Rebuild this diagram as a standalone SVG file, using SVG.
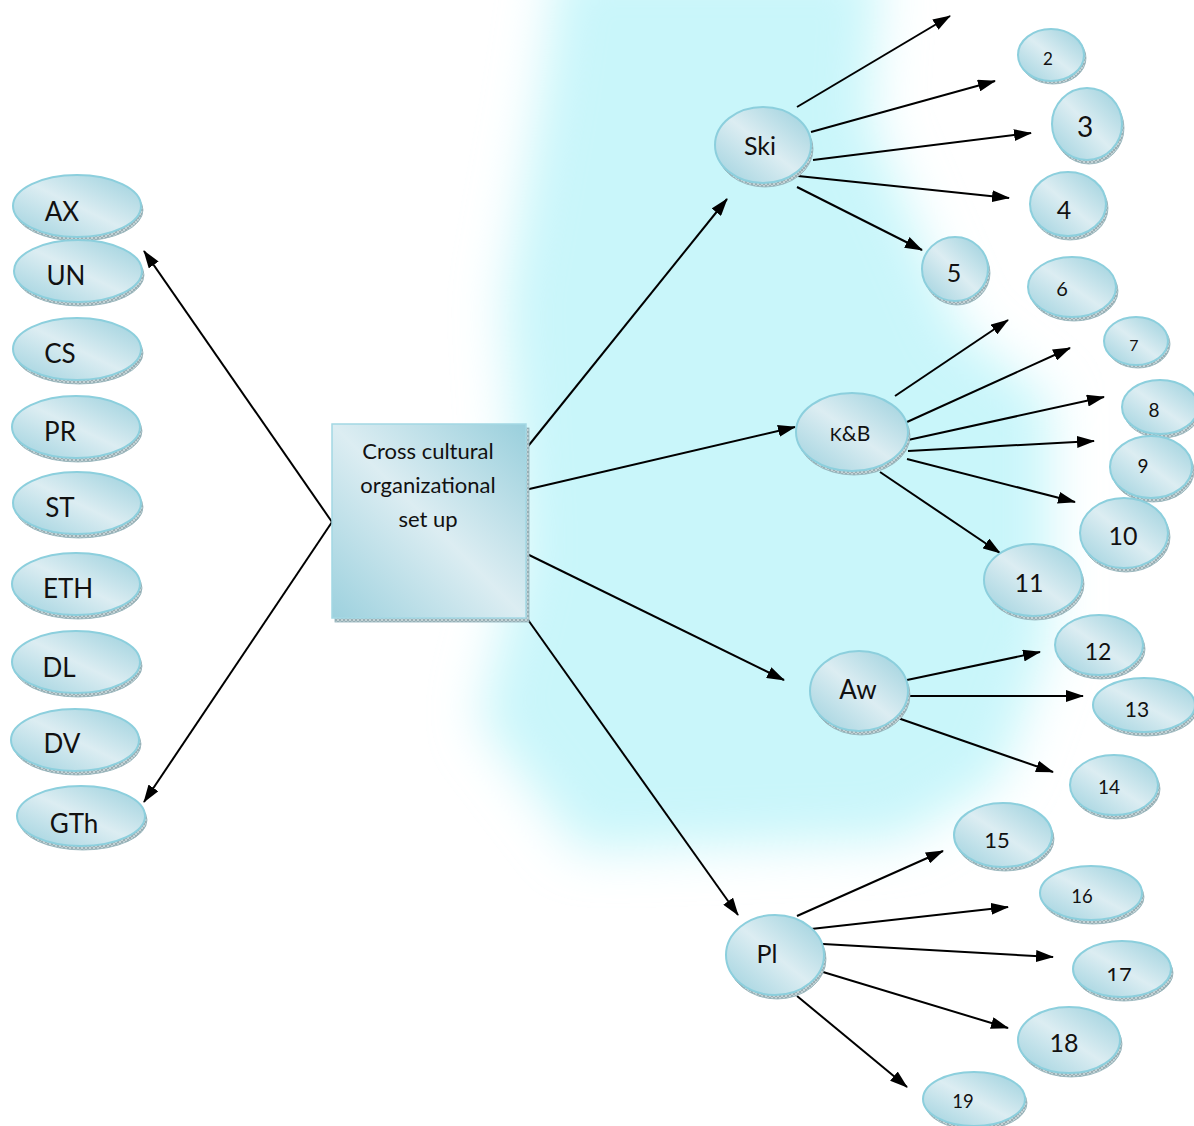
<svg xmlns="http://www.w3.org/2000/svg" width="1194" height="1126" viewBox="0 0 1194 1126">
<defs>
<linearGradient id="face" x1="0" y1="1" x2="1" y2="0">
<stop offset="0" stop-color="#9dd1de"/>
<stop offset="0.5" stop-color="#dcedf2"/>
<stop offset="1" stop-color="#99cfdc"/>
</linearGradient>
<pattern id="hatch" width="4" height="4" patternUnits="userSpaceOnUse">
<rect width="4" height="4" fill="#c4d3d6"/>
<path d="M0,0 L4,4 M4,0 L0,4" stroke="#7d979d" stroke-width="0.6"/>
</pattern>
<marker id="ah" markerUnits="userSpaceOnUse" markerWidth="18" markerHeight="12" refX="17" refY="6" orient="auto">
<path d="M0,0 L18,6 L0,12 z" fill="#000"/>
</marker>
<filter id="blur" x="-30%" y="-30%" width="160%" height="160%"><feGaussianBlur stdDeviation="25"/></filter>
<clipPath id="c17"><rect x="1070" y="930" width="110" height="51"/></clipPath>
</defs>
<style>
.rim{fill:url(#hatch);stroke:#8fb0b8;stroke-width:0.8}
.face{fill:url(#face);stroke:#8ccfdd;stroke-width:2}
text{font-family:Lato,"Open Sans","Liberation Sans",sans-serif;fill:#111;text-anchor:middle}
.edge{stroke:#000;stroke-width:2;fill:none;marker-end:url(#ah)}
</style>
<rect width="1194" height="1126" fill="#fff"/>
<path d="M560,-40 L880,-40 L870,120 L960,330 L1050,400 L1050,640 L1000,780 L900,840 L580,850 L480,720 L520,560 L505,300 L540,100 Z" fill="#c9f6fa" filter="url(#blur)"/>

<g id="connectors">
<line class="edge" x1="332" y1="522" x2="144" y2="251"/>
<line class="edge" x1="332" y1="522" x2="144" y2="802"/>
<line class="edge" x1="525" y1="450" x2="727" y2="199"/>
<line class="edge" x1="525" y1="490" x2="795" y2="427"/>
<line class="edge" x1="525" y1="553" x2="784" y2="680"/>
<line class="edge" x1="526" y1="617" x2="738" y2="915"/>
<line class="edge" x1="797" y1="107" x2="950" y2="16"/>
<line class="edge" x1="811" y1="132" x2="995" y2="81"/>
<line class="edge" x1="813" y1="160" x2="1031" y2="133"/>
<line class="edge" x1="798" y1="176" x2="1009" y2="198"/>
<line class="edge" x1="797" y1="187" x2="922" y2="250"/>
<line class="edge" x1="895" y1="396" x2="1008" y2="320"/>
<line class="edge" x1="907" y1="422" x2="1070" y2="348"/>
<line class="edge" x1="908" y1="440" x2="1104" y2="397"/>
<line class="edge" x1="908" y1="451" x2="1094" y2="441"/>
<line class="edge" x1="907" y1="459" x2="1075" y2="502"/>
<line class="edge" x1="880" y1="472" x2="1000" y2="553"/>
<line class="edge" x1="907" y1="680" x2="1040" y2="652"/>
<line class="edge" x1="907" y1="696" x2="1083" y2="696"/>
<line class="edge" x1="895" y1="717" x2="1053" y2="772"/>
<line class="edge" x1="797" y1="916" x2="943" y2="851"/>
<line class="edge" x1="811" y1="929" x2="1008" y2="907"/>
<line class="edge" x1="823" y1="944" x2="1053" y2="957"/>
<line class="edge" x1="823" y1="972" x2="1008" y2="1028"/>
<line class="edge" x1="797" y1="996" x2="907" y2="1087"/>
</g>

<g id="n-ax"><ellipse class="rim" cx="79" cy="210" rx="64" ry="31"/><ellipse class="face" cx="77" cy="206" rx="64" ry="31"/><text x="62" y="221" font-size="26">AX</text></g>
<g id="n-un"><ellipse class="rim" cx="80" cy="275" rx="64" ry="31"/><ellipse class="face" cx="78" cy="271" rx="64" ry="31"/><text x="66" y="285" font-size="26">UN</text></g>
<g id="n-cs"><ellipse class="rim" cx="79" cy="353" rx="64" ry="31"/><ellipse class="face" cx="77" cy="349" rx="64" ry="31"/><text x="60" y="363" font-size="26">CS</text></g>
<g id="n-pr"><ellipse class="rim" cx="78" cy="431" rx="64" ry="31"/><ellipse class="face" cx="76" cy="427" rx="64" ry="31"/><text x="60" y="441" font-size="26">PR</text></g>
<g id="n-st"><ellipse class="rim" cx="79" cy="507" rx="64" ry="31"/><ellipse class="face" cx="77" cy="503" rx="64" ry="31"/><text x="60" y="517" font-size="26">ST</text></g>
<g id="n-eth"><ellipse class="rim" cx="78" cy="588" rx="64" ry="31"/><ellipse class="face" cx="76" cy="584" rx="64" ry="31"/><text x="68" y="598" font-size="26">ETH</text></g>
<g id="n-dl"><ellipse class="rim" cx="78" cy="666" rx="64" ry="31"/><ellipse class="face" cx="76" cy="662" rx="64" ry="31"/><text x="59" y="677" font-size="26">DL</text></g>
<g id="n-dv"><ellipse class="rim" cx="77" cy="744" rx="64" ry="31"/><ellipse class="face" cx="75" cy="740" rx="64" ry="31"/><text x="62" y="753" font-size="26">DV</text></g>
<g id="n-gth"><ellipse class="rim" cx="83" cy="820" rx="64" ry="30"/><ellipse class="face" cx="81" cy="816" rx="64" ry="30"/><text x="74" y="833" font-size="26">GTh</text></g>

<g id="n-center">
<rect x="335" y="428" width="194" height="194" fill="url(#hatch)" stroke="#8fb0b8" stroke-width="0.8"/>
<rect x="332" y="424" width="194" height="194" fill="url(#face)" stroke="#a3d8e4" stroke-width="1.5"/>
<text x="428" y="459" font-size="22">Cross cultural</text>
<text x="428" y="493" font-size="22">organizational</text>
<text x="428" y="527" font-size="22">set up</text>
</g>

<g id="n-ski"><ellipse class="rim" cx="765" cy="149" rx="48" ry="38"/><ellipse class="face" cx="763" cy="145" rx="48" ry="38"/><text x="760" y="155" font-size="25">Ski</text></g>
<g id="n-kb"><ellipse class="rim" cx="854" cy="436" rx="56" ry="39"/><ellipse class="face" cx="852" cy="432" rx="56" ry="39"/><text x="850" y="441" font-size="21"><tspan font-size="18">K</tspan>&amp;B</text></g>
<g id="n-aw"><ellipse class="rim" cx="861" cy="695" rx="49" ry="40"/><ellipse class="face" cx="859" cy="691" rx="49" ry="40"/><text x="858" y="699" font-size="26">Aw</text></g>
<g id="n-pl"><ellipse class="rim" cx="777" cy="959" rx="49" ry="40"/><ellipse class="face" cx="775" cy="955" rx="49" ry="40"/><text x="767" y="963" font-size="25">Pl</text></g>

<g id="n-2"><ellipse class="rim" cx="1053" cy="58" rx="33" ry="26"/><ellipse class="face" cx="1051" cy="55" rx="33" ry="26"/><text x="1048" y="65" font-size="17">2</text></g>
<g id="n-3"><ellipse class="rim" cx="1089" cy="128" rx="35" ry="36"/><ellipse class="face" cx="1087" cy="124" rx="35" ry="36"/><text x="1085" y="137" font-size="28">3</text></g>
<g id="n-4"><ellipse class="rim" cx="1070" cy="208" rx="38" ry="32"/><ellipse class="face" cx="1068" cy="204" rx="38" ry="32"/><text x="1064" y="219" font-size="25">4</text></g>
<g id="n-5"><ellipse class="rim" cx="957" cy="273" rx="33" ry="32"/><ellipse class="face" cx="955" cy="269" rx="33" ry="32"/><text x="954" y="282" font-size="25">5</text></g>
<g id="n-6"><ellipse class="rim" cx="1074" cy="291" rx="44" ry="30"/><ellipse class="face" cx="1072" cy="287" rx="44" ry="30"/><text x="1062" y="296" font-size="20">6</text></g>
<g id="n-7"><ellipse class="rim" cx="1138" cy="344" rx="32" ry="24"/><ellipse class="face" cx="1136" cy="341" rx="32" ry="24"/><text x="1134" y="351" font-size="16">7</text></g>
<g id="n-8"><ellipse class="rim" cx="1162" cy="411" rx="38" ry="27"/><ellipse class="face" cx="1160" cy="407" rx="38" ry="27"/><text x="1154" y="417" font-size="19">8</text></g>
<g id="n-9"><ellipse class="rim" cx="1153" cy="471" rx="41" ry="31"/><ellipse class="face" cx="1151" cy="467" rx="41" ry="31"/><text x="1143" y="473" font-size="19">9</text></g>
<g id="n-10"><ellipse class="rim" cx="1126" cy="537" rx="44" ry="35"/><ellipse class="face" cx="1124" cy="533" rx="44" ry="35"/><text x="1123" y="545" font-size="25">10</text></g>
<g id="n-11"><ellipse class="rim" cx="1035" cy="584" rx="49" ry="36"/><ellipse class="face" cx="1033" cy="580" rx="49" ry="36"/><text x="1029" y="592" font-size="25">11</text></g>
<g id="n-12"><ellipse class="rim" cx="1101" cy="649" rx="44" ry="30"/><ellipse class="face" cx="1099" cy="645" rx="44" ry="30"/><text x="1098" y="660" font-size="23">12</text></g>
<g id="n-13"><ellipse class="rim" cx="1146" cy="709" rx="51" ry="27"/><ellipse class="face" cx="1144" cy="705" rx="51" ry="27"/><text x="1137" y="717" font-size="21">13</text></g>
<g id="n-14"><ellipse class="rim" cx="1116" cy="789" rx="44" ry="30"/><ellipse class="face" cx="1114" cy="785" rx="44" ry="30"/><text x="1109" y="794" font-size="19">14</text></g>
<g id="n-15"><ellipse class="rim" cx="1005" cy="839" rx="49" ry="32"/><ellipse class="face" cx="1003" cy="835" rx="49" ry="32"/><text x="997" y="848" font-size="22">15</text></g>
<g id="n-16"><ellipse class="rim" cx="1093" cy="897" rx="51" ry="27"/><ellipse class="face" cx="1091" cy="893" rx="51" ry="27"/><text x="1082" y="903" font-size="18.5">16</text></g>
<g id="n-17"><ellipse class="rim" cx="1124" cy="973" rx="49" ry="28"/><ellipse class="face" cx="1122" cy="969" rx="49" ry="28"/><text x="1119" y="983" font-size="22" clip-path="url(#c17)">17</text></g>
<g id="n-18"><ellipse class="rim" cx="1071" cy="1044" rx="51" ry="33"/><ellipse class="face" cx="1069" cy="1040" rx="51" ry="33"/><text x="1064" y="1052" font-size="25">18</text></g>
<g id="n-19"><ellipse class="rim" cx="976" cy="1103" rx="51" ry="27"/><ellipse class="face" cx="974" cy="1099" rx="51" ry="27"/><text x="963" y="1108" font-size="18.5">19</text></g>
</svg>
